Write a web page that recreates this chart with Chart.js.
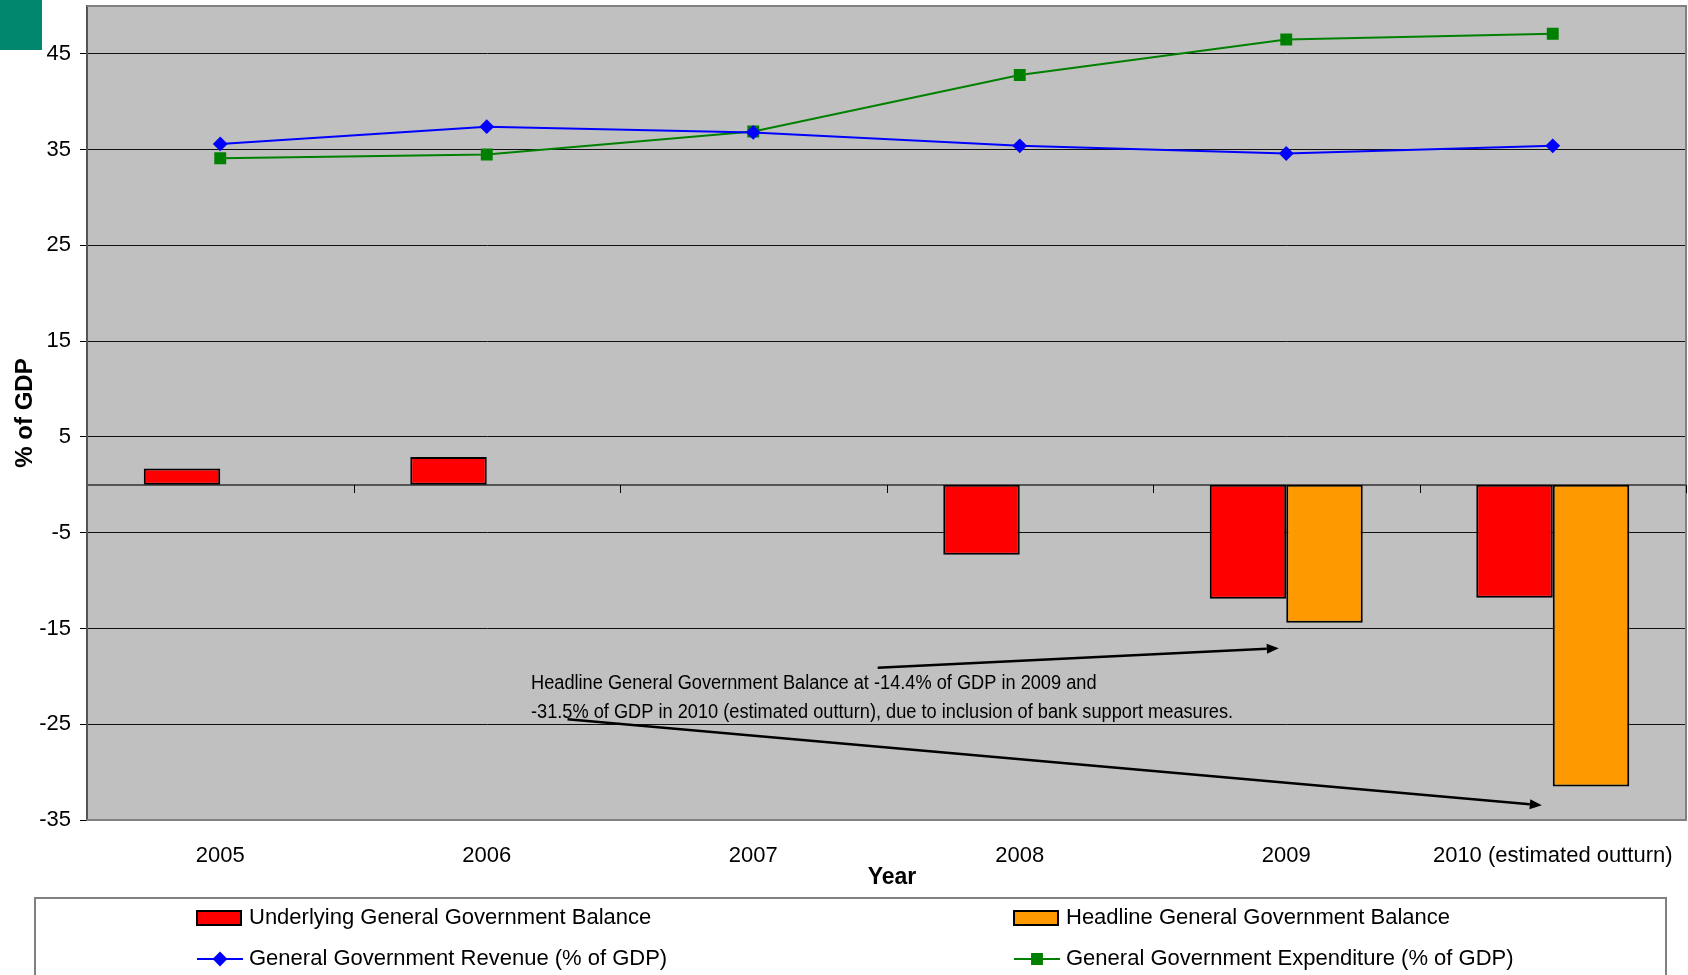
<!DOCTYPE html>
<html>
<head>
<meta charset="utf-8">
<title>General Government Balance, Revenue and Expenditure</title>
<script src="https://cdn.jsdelivr.net/npm/chart.js@4.4.1/dist/chart.umd.min.js"></script>
<style>
  html, body { margin: 0; padding: 0; background: #fff; }
  #wrap { width: 1688px; height: 975px; }
</style>
</head>
<body>
<div id="wrap"><canvas id="balanceChart" width="1688" height="975"></canvas></div>
<script>
// Categories and series, all in % of GDP
const years = ['2005', '2006', '2007', '2008', '2009', '2010 (estimated outturn)'];
const underlyingBalance = [1.7, 2.9, null, -7.3, -11.9, -11.8];
const headlineBalance = [null, null, null, null, -14.4, -31.5];
const revenue = [35.6, 37.4, 36.8, 35.4, 34.6, 35.4];
const expenditure = [34.1, 34.5, 36.9, 42.8, 46.5, 47.1];
const yTicks = [-35, -25, -15, -5, 5, 15, 25, 35, 45];

// Note and its arrows, placed in (category index, value) units
const noteLines = [
  `Headline General Government Balance at ${headlineBalance[4]}% of GDP in 2009 and`,
  `${headlineBalance[5]}% of GDP in 2010 (estimated outturn), due to inclusion of bank support measures.`
];
const noteAnchor = [1.166, -20.7];
const noteArrows = [
  { from: [2.467, -19.1], to: [3.972, -17.06] },
  { from: [1.303, -24.47], to: [4.959, -33.46] }
];

const FONT = "'Liberation Sans', Arial, sans-serif";

// grey plot area and the small teal block in the corner
const plotBackground = {
  id: 'plotBackground',
  beforeDraw(chart) {
    const { ctx, chartArea: a } = chart;
    ctx.save();
    ctx.fillStyle = '#00876e';
    ctx.fillRect(0, 0, 42, 50);
    ctx.fillStyle = '#c0c0c0';
    ctx.fillRect(a.left, a.top, a.right - a.left, a.bottom - a.top);
    ctx.restore();
  }
};

// frame, zero axis and the category tick marks hanging off it
const zeroAxis = {
  id: 'zeroAxis',
  beforeDatasetsDraw(chart) {
    const { ctx, chartArea: a, scales: { x, y } } = chart;
    const y0 = Math.round(y.getPixelForValue(0));
    ctx.save();
    ctx.strokeStyle = '#808080';
    ctx.lineWidth = 2;
    ctx.beginPath();
    ctx.moveTo(a.left, a.top);
    ctx.lineTo(a.right, a.top);
    ctx.lineTo(a.right, a.bottom);
    ctx.lineTo(a.left, a.bottom);
    ctx.stroke();

    ctx.strokeStyle = '#555';
    ctx.beginPath();
    ctx.moveTo(a.left, y0);
    ctx.lineTo(a.right, y0);
    ctx.stroke();

    ctx.strokeStyle = '#000';
    ctx.lineWidth = 1;
    for (let i = 1; i <= years.length; i++) {
      const px = Math.round(x.getPixelForValue(i - 0.5)) + 0.5;
      ctx.beginPath();
      ctx.moveTo(px, y0);
      ctx.lineTo(px, y0 + 8);
      ctx.stroke();
    }
    ctx.restore();
  }
};

function drawArrow(ctx, x1, y1, x2, y2) {
  const ang = Math.atan2(y2 - y1, x2 - x1);
  const head = 12, half = 5;
  const bx = x2 - head * Math.cos(ang), by = y2 - head * Math.sin(ang);
  ctx.beginPath();
  ctx.moveTo(x1, y1);
  ctx.lineTo(bx, by);
  ctx.stroke();
  ctx.beginPath();
  ctx.moveTo(x2, y2);
  ctx.lineTo(bx + half * Math.sin(ang), by - half * Math.cos(ang));
  ctx.lineTo(bx - half * Math.sin(ang), by + half * Math.cos(ang));
  ctx.closePath();
  ctx.fill();
}

const noteLayer = {
  id: 'noteLayer',
  afterDatasetsDraw(chart) {
    const { ctx, scales: { x, y } } = chart;
    ctx.save();
    ctx.fillStyle = '#000';
    ctx.strokeStyle = '#000';
    ctx.lineWidth = 2.5;
    noteArrows.forEach(a => {
      drawArrow(ctx,
        x.getPixelForValue(a.from[0]), y.getPixelForValue(a.from[1]),
        x.getPixelForValue(a.to[0]), y.getPixelForValue(a.to[1]));
    });
    // the note text is set a little condensed
    const sx = 0.91;
    const tx = x.getPixelForValue(noteAnchor[0]);
    const ty = y.getPixelForValue(noteAnchor[1]);
    ctx.font = `20px ${FONT}`;
    ctx.textBaseline = 'middle';
    ctx.textAlign = 'left';
    ctx.translate(tx, ty);
    ctx.scale(sx, 1);
    noteLines.forEach((t, i) => ctx.fillText(t, 0, i * 29));
    ctx.restore();
  }
};

// "Year" sits a little right of the axis centre
const xTitle = {
  id: 'xTitle',
  afterDraw(chart) {
    const { ctx } = chart;
    ctx.save();
    ctx.font = `bold 23px ${FONT}`;
    ctx.fillStyle = '#000';
    ctx.textAlign = 'center';
    ctx.textBaseline = 'middle';
    ctx.fillText('Year', 892, 878);
    ctx.restore();
  }
};

// two-column legend in a box under the axis
const legendBox = {
  id: 'legendBox',
  afterDraw(chart) {
    const { ctx } = chart;
    const cols = [197, 1014], rows = [918, 959];
    ctx.save();
    ctx.strokeStyle = '#808080';
    ctx.lineWidth = 2;
    ctx.strokeRect(35, 898, 1631, 120);
    ctx.font = `22px ${FONT}`;
    ctx.textBaseline = 'middle';
    chart.data.datasets.forEach((ds, i) => {
      const lx = cols[i % 2], ly = rows[Math.floor(i / 2)];
      if (ds.type === 'line') {
        ctx.strokeStyle = ds.borderColor;
        ctx.lineWidth = 2;
        ctx.beginPath();
        ctx.moveTo(lx, ly);
        ctx.lineTo(lx + 46, ly);
        ctx.stroke();
        ctx.fillStyle = ds.pointBackgroundColor;
        Chart.helpers.drawPoint(ctx, {
          pointStyle: ds.pointStyle, radius: ds.pointRadius, rotation: 0, borderWidth: 1
        }, lx + 23, ly);
      } else {
        ctx.fillStyle = ds.backgroundColor;
        ctx.fillRect(lx, ly - 7, 44, 14);
        ctx.strokeStyle = '#000';
        ctx.lineWidth = 2;
        ctx.strokeRect(lx, ly - 7, 44, 14);
      }
      ctx.fillStyle = '#000';
      ctx.fillText(ds.label, lx + 52, ly);
    });
    ctx.restore();
  }
};

new Chart(document.getElementById('balanceChart'), {
  type: 'bar',
  data: {
    labels: years,
    datasets: [
      {
        label: 'Underlying General Government Balance',
        data: underlyingBalance,
        backgroundColor: '#ff0000',
        borderColor: '#000',
        borderWidth: 2,
        borderSkipped: false,
        order: 1
      },
      {
        label: 'Headline General Government Balance',
        data: headlineBalance,
        backgroundColor: '#ff9900',
        borderColor: '#000',
        borderWidth: 2,
        borderSkipped: false,
        order: 1
      },
      {
        type: 'line',
        label: 'General Government Revenue (% of GDP)',
        data: revenue,
        borderColor: '#0000ff',
        borderWidth: 2,
        pointStyle: 'rectRot',
        pointRadius: 6,
        pointBackgroundColor: '#0000ff',
        pointBorderColor: '#0000ff',
        tension: 0,
        order: 0
      },
      {
        type: 'line',
        label: 'General Government Expenditure (% of GDP)',
        data: expenditure,
        borderColor: '#008000',
        borderWidth: 2,
        pointStyle: 'rect',
        pointRadius: 7,
        pointBackgroundColor: '#008000',
        pointBorderColor: '#008000',
        tension: 0,
        order: 0
      }
    ]
  },
  options: {
    responsive: false,
    animation: false,
    devicePixelRatio: 1,
    layout: { autoPadding: false, padding: { top: 6, right: 2, left: 0, bottom: 0 } },
    datasets: {
      bar: { barPercentage: 1, categoryPercentage: 0.574 }
    },
    plugins: {
      legend: { display: false },
      tooltip: { enabled: false }
    },
    scales: {
      x: {
        grid: { display: false, drawTicks: false },
        border: { display: false },
        ticks: {
          color: '#000',
          font: { family: FONT, size: 22 },
          padding: 23,
          maxRotation: 0,
          autoSkip: false
        },
        afterFit(scale) {
          scale.height = 155;
          scale.paddingLeft = 0;
          scale.paddingRight = 0;
        }
      },
      y: {
        min: -35,
        max: 50,
        afterBuildTicks(scale) {
          scale.ticks = yTicks.map(v => ({ value: v }));
        },
        afterFit(scale) {
          scale.width = 87;
          scale.paddingTop = 0;
          scale.paddingBottom = 0;
        },
        grid: { color: '#111', lineWidth: 1, drawTicks: true, tickLength: 7, tickColor: '#000' },
        border: { display: true, color: '#555', width: 2 },
        ticks: { color: '#000', font: { family: FONT, size: 22 }, padding: 9 },
        title: {
          display: true,
          text: '% of GDP',
          color: '#000',
          font: { family: FONT, size: 24, weight: 'bold' },
          padding: { top: 11, bottom: 0 }
        }
      }
    }
  },
  plugins: [plotBackground, zeroAxis, noteLayer, xTitle, legendBox]
});
</script>
</body>
</html>
